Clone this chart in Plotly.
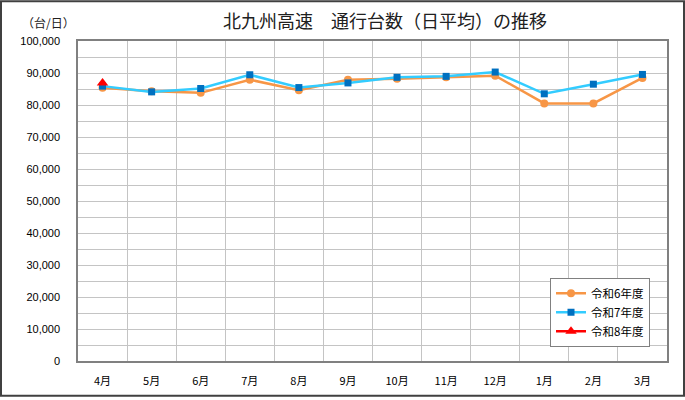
import plotly.graph_objects as go

months = ["4月", "5月", "6月", "7月", "8月", "9月", "10月", "11月", "12月", "1月", "2月", "3月"]
r6 = [85400, 84300, 83800, 87900, 84600, 87900, 88200, 88650, 89150, 80500, 80500, 88450]
r7 = [85900, 84100, 85150, 89450, 85450, 86900, 88650, 88950, 90300, 83500, 86500, 89550]
r8 = [86900]
series_names = ["令和6年度", "令和7年度", "令和8年度"]

W, H = 685, 400
L, R, T, B = 78, 667, 41, 364
pw, ph = R - L, B - T

def px(x):
    return (x - L) / pw

def py(y):
    return (B - y) / ph

jp = "Noto Sans CJK JP"

fig = go.Figure()
fig.add_trace(go.Scatter(
    x=months, y=r6, name=series_names[0], mode="lines+markers",
    line=dict(color="#F79646", width=2.5),
    marker=dict(symbol="circle", size=8, color="#F79646"),
))
fig.add_trace(go.Scatter(
    x=months, y=r7, name=series_names[1], mode="lines+markers",
    line=dict(color="#33CCFF", width=2.5),
    marker=dict(symbol="square", size=7, color="#0070C0"),
))
fig.add_trace(go.Scatter(
    x=months[:len(r8)], y=r8, name=series_names[2], mode="lines+markers",
    line=dict(color="#FF0000", width=2.5),
    marker=dict(symbol="triangle-up", size=10, color="#FF0000"),
))

fig.update_layout(
    width=W, height=H,
    margin=dict(l=L, r=W - R, t=T, b=H - B, pad=0),
    paper_bgcolor="white", plot_bgcolor="white",
    font=dict(family=jp, size=11, color="#000000"),
    showlegend=True,
    legend=dict(
        x=px(550), y=py(280), xanchor="left", yanchor="top",
        bordercolor="#808080", borderwidth=1, bgcolor="white",
        font=dict(family=jp, size=11.5, color="#000000"),
        tracegroupgap=0, itemwidth=30,
    ),
    annotations=[
        dict(text="北九州高速　通行台数（日平均）の推移", x=px(385), y=py(20),
             xref="paper", yref="paper", showarrow=False, xanchor="center", yanchor="middle",
             font=dict(family=jp, size=18, color="#202020")),
        dict(text="（台/日）", x=px(48), y=py(22),
             xref="paper", yref="paper", showarrow=False, xanchor="center", yanchor="middle",
             font=dict(family=jp, size=12, color="#202020")),
    ],
    shapes=[
        dict(type="rect", xref="paper", yref="paper",
             x0=px(1), x1=px(684), y0=py(399), y1=py(1),
             line=dict(color="#404040", width=2), fillcolor="rgba(0,0,0,0)", layer="above"),
    ],
)

fig.update_xaxes(
    type="category", categoryorder="array", categoryarray=months,
    tickson="boundaries", showgrid=True, gridcolor="#C4C4C4", gridwidth=1,
    showline=True, linecolor="#808080", linewidth=1.5, mirror=True,
    ticks="", ticklabelstandoff=9,
    tickfont=dict(family=jp, size=11, color="#000000"),
    range=[-0.5, 11.5], fixedrange=True,
)
fig.update_yaxes(
    range=[0, 100000], dtick=10000, tick0=0, tickformat=",d",
    showgrid=True, gridcolor="#C4C4C4", gridwidth=1,
    minor=dict(dtick=5000, showgrid=True, gridcolor="#C4C4C4", gridwidth=1),
    showline=True, linecolor="#808080", linewidth=1.5, mirror=True,
    ticks="", ticklabelstandoff=14, zeroline=False,
    tickfont=dict(family="Liberation Sans", size=11, color="#000000"),
    fixedrange=True,
)

fig.write_html("out.html")
